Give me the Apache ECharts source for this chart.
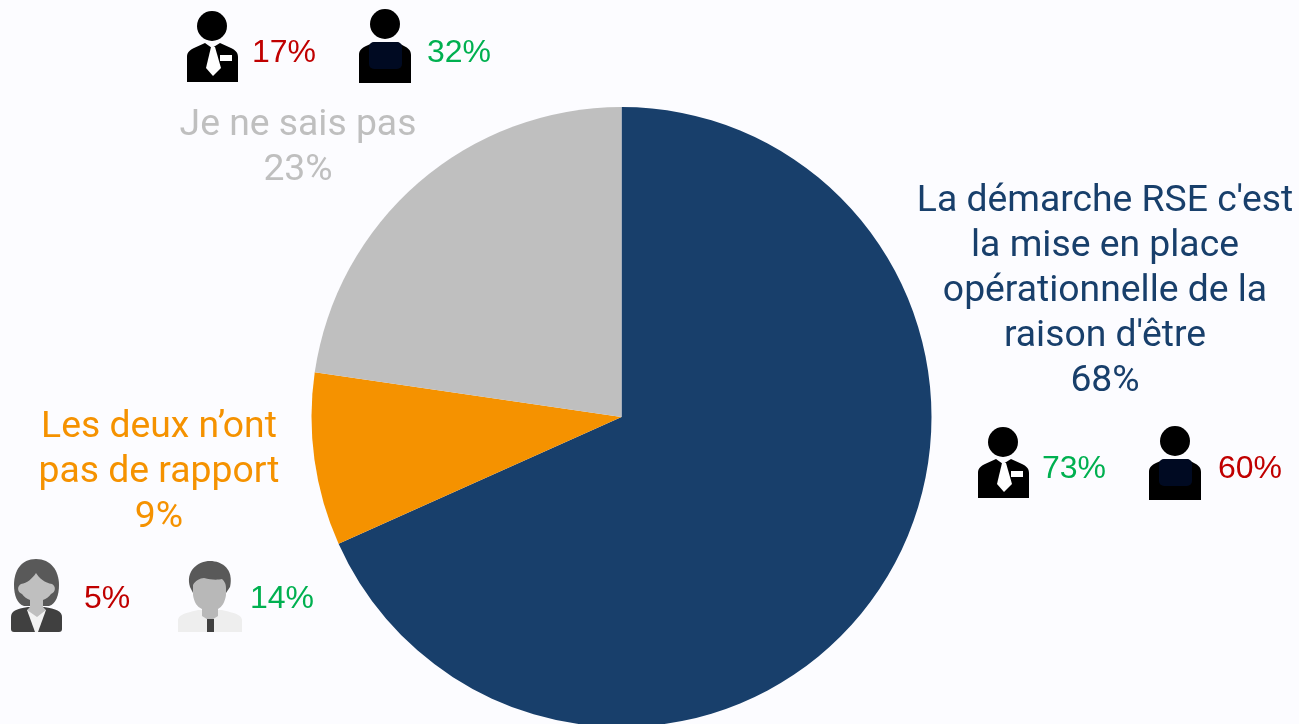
<!DOCTYPE html>
<html>
<head>
<meta charset="utf-8">
<script src="https://cdn.jsdelivr.net/npm/echarts@6/dist/echarts.min.js"></script>
<style>
html, body { margin: 0; padding: 0; background: #fcfcff; }
#main { width: 1299px; height: 724px; }
</style>
</head>
<body>
<div id="main"></div>
<script>
// parts du camembert (angles, libellés arrondis)
const categories = ["La démarche RSE c'est\nla mise en place\nopérationnelle de la\nraison d'être", 'Les deux n’ont\npas de rapport', 'Je ne sais pas']
const values = [68.3, 9, 22.7]
const colors = ['#183f6b', '#f59200', '#bfbfbf']
// pourcentages à côté des pictos
const iconPercents = ['17%', '32%', '73%', '60%', '5%', '14%']
const percentColors = ['#c00000', '#00b050', '#00b050', '#c00000', '#c00000', '#00b050']

const labelPos = [
    {x: 1105, y: 292},
    {x: 159, y: 473},
    {x: 298, y: 148}
]
const percentPos = [[252, 53], [427, 53], [1042, 469], [1218, 469], [84, 599], [250, 599]]

// formes des pictos (le composant graphic ne prend pas pathData directement)
const shapes = {
    manBody: 'M0 71 L0 46 C0 41 3 39 7 37 L18 32 L25 37 L33 32 L44 37 C48 39 51 41 51 46 L51 71 Z',
    personBody: 'M0 74 L0 46 C0 41 3 39 7 37 L16 33 L38 33 L45 37 C49 39 52 41 52 46 L52 74 Z',
    womanHair: 'M26 0 C41 0 49 12 49 26 C49 36 46 45 39 47 L14 47 C7 45 4 36 4 26 C4 12 11 0 26 0 Z',
    womanFace: 'M11 25 C17 24 22 20 26 14 C29 19 35 24 42 25 C46 27 46 33 41 35 C39 38 36 40 33 41 L33 48 L36 51 L27 58 L17 51 L20 48 L20 41 C17 40 14 38 12 35 C7 33 7 27 11 25 Z',
    womanBody: 'M1 70 L1 58 C1 52 6 50 18 48 L34 48 C46 50 52 52 52 58 L52 70 C52 72 51 73 49 73 L4 73 C2 73 1 72 1 70 Z',
    womanShirt: 'M17 51 L36 51 L28 73 L25 73 Z',
    greyBody: 'M0 71 L0 59 C1 54 4 53 20 49 L44 49 C60 53 63 54 64 59 L64 71 Z',
    greyFace: 'M15 24 C17 20 22 17 26 17 C33 19 40 19 44 18 C46 20 48 22 48 27 L48 34 C47 41 44 46 40 48 L40 55 L32 60 L24 55 L24 48 C19 46 16 41 15 34 Z',
    greyHair: 'M12 26 C7 10 20 0 32 0 C44 0 56 8 52 26 L48 32 L15 32 Z'
}
Object.keys(shapes).forEach((k) => {
    echarts.graphic.registerShape(k, echarts.graphic.extendPath(shapes[k]))
})

// picto homme avec cravate
const manTie = (x, y) => ({
    type: 'group', x, y, silent: true,
    children: [
        {type: 'circle', shape: {cx: 25, cy: 15, r: 15}, style: {fill: '#000'}},
        {type: 'manBody', style: {fill: '#000'}},
        {type: 'polygon', shape: {points: [[24, 36], [28, 36], [34, 57], [26, 65], [19, 57]]}, style: {fill: '#fff'}},
        {type: 'rect', shape: {x: 33, y: 44, width: 12, height: 6}, style: {fill: '#fff'}}
    ]
})
// picto personne avec rectangle sombre
const personDark = (x, y) => ({
    type: 'group', x, y, silent: true,
    children: [
        {type: 'circle', shape: {cx: 26, cy: 15, r: 15}, style: {fill: '#000'}},
        {type: 'personBody', style: {fill: '#000'}},
        {type: 'rect', shape: {x: 10, y: 33, width: 33, height: 27, r: 5}, style: {fill: '#000a22'}}
    ]
})
// picto femme
const woman = (x, y) => ({
    type: 'group', x, y, silent: true,
    children: [
        {type: 'womanHair', style: {fill: '#595959'}},
        {type: 'womanBody', style: {fill: '#404040'}},
        {type: 'womanShirt', style: {fill: '#f2f2f2'}},
        {type: 'womanFace', style: {fill: '#bfbfbf'}}
    ]
})
// picto homme gris
const manGrey = (x, y) => ({
    type: 'group', x, y, silent: true,
    children: [
        {type: 'greyBody', style: {fill: '#eeeeee'}},
        {type: 'greyHair', style: {fill: '#595959'}},
        {type: 'greyFace', style: {fill: '#b8b8b8'}},
        {type: 'polygon', shape: {points: [[29, 58], [36, 58], [36, 71], [29, 71]]}, style: {fill: '#404040'}}
    ]
})

const percentTexts = iconPercents.map((t, i) => ({
    type: 'text',
    x: percentPos[i][0],
    y: percentPos[i][1],
    silent: true,
    style: {
        text: t,
        fill: percentColors[i],
        font: '32px "Liberation Sans", Arial, sans-serif',
        textAlign: 'left',
        textVerticalAlign: 'middle'
    }
}))

var myChart = echarts.init(document.getElementById('main'), null, {renderer: 'canvas'})
myChart.setOption({
    animation: false,
    backgroundColor: '#fcfcff',
    series: [
        {
            type: 'pie',
            center: [621.5, 417],
            radius: [0, 310],
            startAngle: 90,
            clockwise: true,
            silent: true,
            data: categories.map((name, i) => ({
                name,
                value: values[i],
                itemStyle: {color: colors[i]},
                label: {color: colors[i]}
            })),
            label: {
                show: true,
                position: 'outside',
                formatter: (p) => p.name + '\n' + Math.round(p.value) + '%',
                fontFamily: 'Roboto',
                fontSize: 37.3,
                lineHeight: 45,
                width: 420,
                overflow: 'none',
                align: 'center'
            },
            labelLine: {show: false},
            labelLayout: (p) => ({
                x: labelPos[p.dataIndex].x,
                y: labelPos[p.dataIndex].y,
                align: 'center',
                verticalAlign: 'middle'
            })
        }
    ],
    graphic: {
        elements: [
            manTie(187, 11),
            personDark(359, 9),
            manTie(978, 427),
            personDark(1149, 426),
            woman(10, 559),
            manGrey(178, 561),
            ...percentTexts
        ]
    }
})
</script>
</body>
</html>
